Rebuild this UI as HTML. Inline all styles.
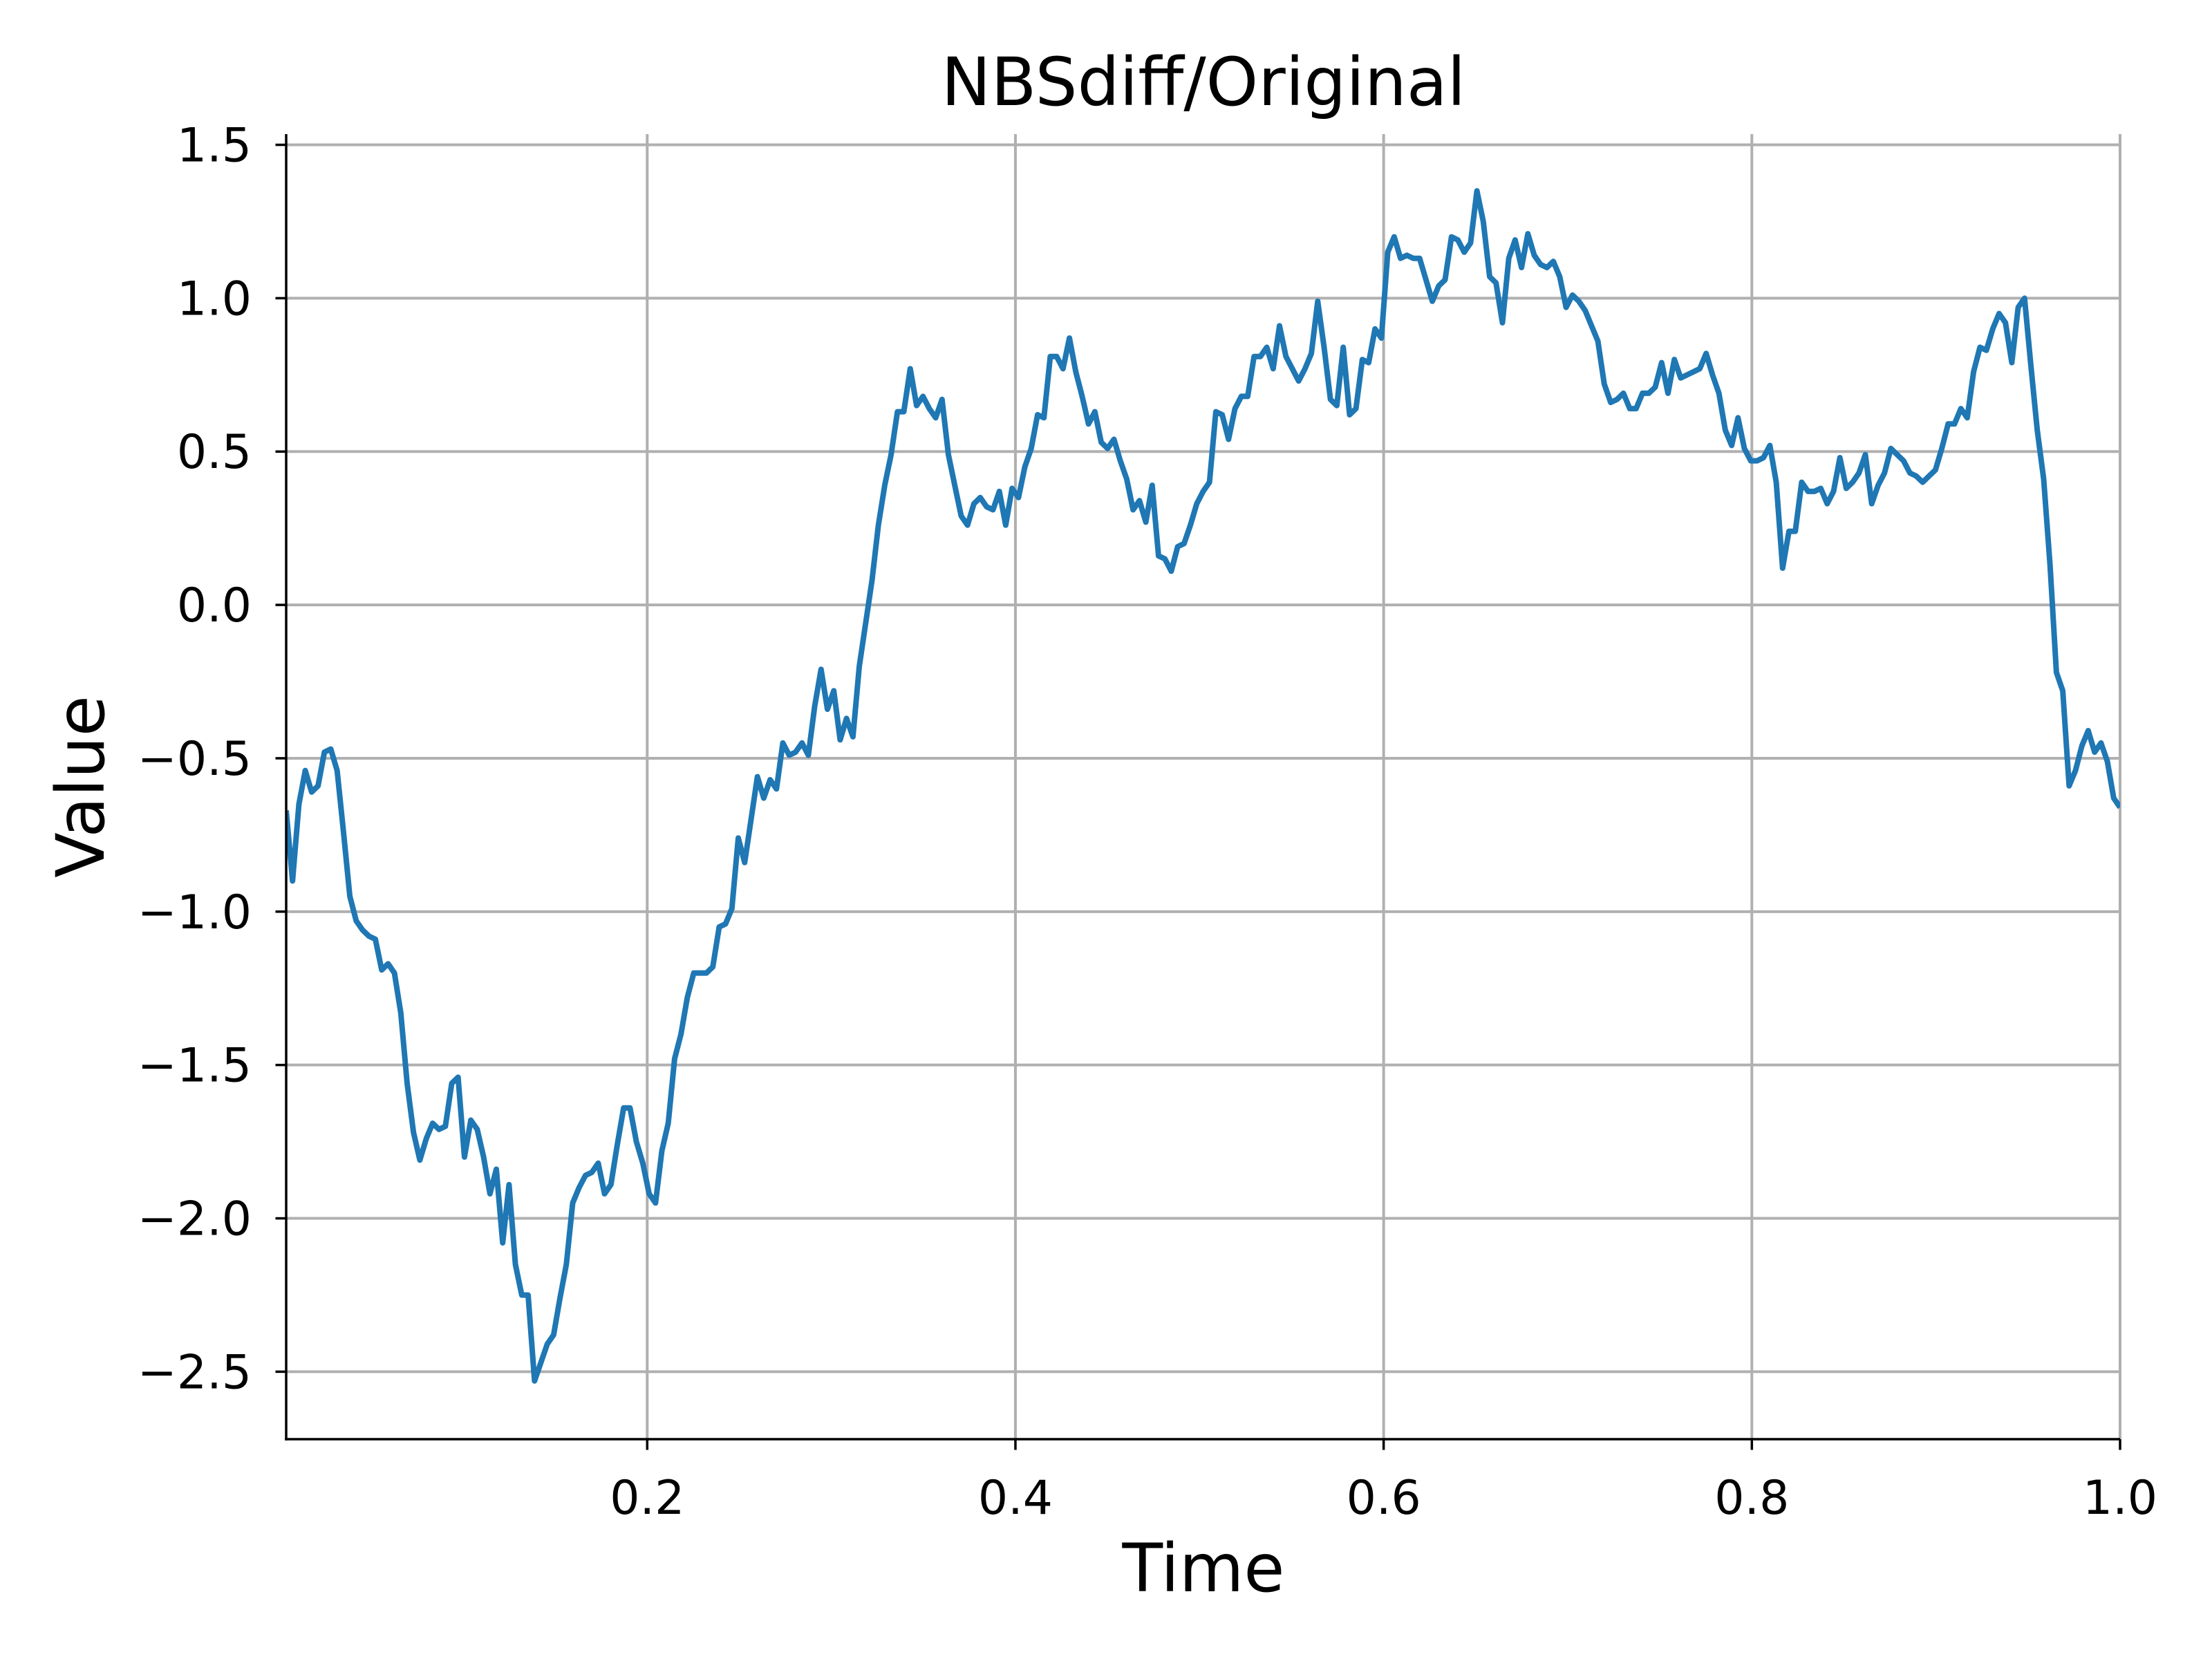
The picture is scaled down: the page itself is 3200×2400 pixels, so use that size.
<!DOCTYPE html>
<html><head><meta charset="utf-8"><style>
html,body{margin:0;padding:0;background:#fff}
svg{display:block}
text{font-family:"DejaVu Sans","Liberation Sans",sans-serif;fill:#000}
</style></head><body>
<svg id="chart" width="3200" height="2400" viewBox="0 0 3200 2400" xmlns="http://www.w3.org/2000/svg">
<rect x="0" y="0" width="3200" height="2400" fill="#fff"/>
<g id="grid"></g>
<g id="series"></g>
<g id="axes"></g>
<text x="1741" y="152" font-size="96" text-anchor="middle">NBSdiff/Original</text>
<text x="1741" y="2302" font-size="96" text-anchor="middle">Time</text>
<text x="0" y="0" font-size="96" text-anchor="middle" transform="translate(150,1138) rotate(-90)">Value</text>
</svg>
<script>
const xTicks = [0.2, 0.4, 0.6, 0.8, 1.0];
const xTickLabels = ["0.2", "0.4", "0.6", "0.8", "1.0"];
const yTicks = [1.5, 1.0, 0.5, 0.0, -0.5, -1.0, -1.5, -2.0, -2.5];
const yTickLabels = ["1.5", "1.0", "0.5", "0.0", "\u22120.5", "\u22121.0", "\u22121.5", "\u22122.0", "\u22122.5"];
const tStart = 0.0039;
const tEnd = 1.0;
const values = [-0.67,-0.90,-0.65,-0.54,-0.61,-0.59,-0.48,-0.47,-0.54,-0.74,-0.95,-1.03,-1.06,-1.08,-1.09,-1.19,-1.17,-1.20,-1.33,-1.56,-1.72,-1.81,-1.74,-1.69,-1.71,-1.70,-1.56,-1.54,-1.80,-1.68,-1.71,-1.80,-1.92,-1.84,-2.08,-1.89,-2.15,-2.25,-2.25,-2.53,-2.47,-2.41,-2.38,-2.26,-2.15,-1.95,-1.90,-1.86,-1.85,-1.82,-1.92,-1.89,-1.76,-1.64,-1.64,-1.75,-1.82,-1.92,-1.95,-1.78,-1.69,-1.48,-1.40,-1.28,-1.20,-1.20,-1.20,-1.18,-1.05,-1.04,-0.99,-0.76,-0.84,-0.70,-0.56,-0.63,-0.57,-0.60,-0.45,-0.49,-0.48,-0.45,-0.49,-0.33,-0.21,-0.34,-0.28,-0.44,-0.37,-0.43,-0.20,-0.06,0.08,0.26,0.39,0.49,0.63,0.63,0.77,0.65,0.68,0.64,0.61,0.67,0.49,0.39,0.29,0.26,0.33,0.35,0.32,0.31,0.37,0.26,0.38,0.35,0.45,0.51,0.62,0.61,0.81,0.81,0.77,0.87,0.76,0.68,0.59,0.63,0.53,0.51,0.54,0.47,0.41,0.31,0.34,0.27,0.39,0.16,0.15,0.11,0.19,0.20,0.26,0.33,0.37,0.40,0.63,0.62,0.54,0.64,0.68,0.68,0.81,0.81,0.84,0.77,0.91,0.81,0.77,0.73,0.77,0.82,0.99,0.84,0.67,0.65,0.84,0.62,0.64,0.80,0.79,0.90,0.87,1.15,1.20,1.13,1.14,1.13,1.13,1.06,0.99,1.04,1.06,1.20,1.19,1.15,1.18,1.35,1.25,1.07,1.05,0.92,1.13,1.19,1.10,1.21,1.14,1.11,1.10,1.12,1.07,0.97,1.01,0.99,0.96,0.91,0.86,0.72,0.66,0.67,0.69,0.64,0.64,0.69,0.69,0.71,0.79,0.69,0.80,0.74,0.75,0.76,0.77,0.82,0.75,0.69,0.57,0.52,0.61,0.51,0.47,0.47,0.48,0.52,0.40,0.12,0.24,0.24,0.40,0.37,0.37,0.38,0.33,0.37,0.48,0.38,0.40,0.43,0.49,0.33,0.39,0.43,0.51,0.49,0.47,0.43,0.42,0.40,0.42,0.44,0.51,0.59,0.59,0.64,0.61,0.76,0.84,0.83,0.90,0.95,0.92,0.79,0.97,1.00,0.78,0.57,0.41,0.13,-0.22,-0.28,-0.59,-0.54,-0.46,-0.41,-0.48,-0.45,-0.51,-0.63,-0.66];

const NS = "http://www.w3.org/2000/svg";
const L = 414, R = 3067, T = 194, B = 2082;
const xMin = 0.0039, xMax = 1.0, yMin = -2.72, yMax = 1.535;
function xs(t){ return L + (t - xMin) / (xMax - xMin) * (R - L); }
function ys(v){ return B - (v - yMin) / (yMax - yMin) * (B - T); }
function mk(tag, attrs, parent){ const e = document.createElementNS(NS, tag); for (const k in attrs) e.setAttribute(k, attrs[k]); parent.appendChild(e); return e; }

const grid = document.getElementById('grid');
const axes = document.getElementById('axes');
const series = document.getElementById('series');

xTicks.forEach((t, i) => {
  const x = xs(t);
  const g = mk('line', {x1:x, x2:x, y1:T, y2:B, stroke:'#b0b0b0', 'stroke-width':4}, grid);
  
  
  const tk = mk('line', {x1:x, x2:x, y1:B, y2:B+15.5, stroke:'#000', 'stroke-width':3.5}, axes);
  
  
  const lb = mk('text', {x:x, y:B+108, 'font-size':68, 'text-anchor':'middle'}, axes);
  lb.textContent = xTickLabels[i];
  
  
});
yTicks.forEach((v, i) => {
  const y = ys(v);
  const g = mk('line', {x1:L, x2:R, y1:y, y2:y, stroke:'#b0b0b0', 'stroke-width':4}, grid);
  
  
  const tk = mk('line', {x1:L-15.5, x2:L, y1:y, y2:y, stroke:'#000', 'stroke-width':3.5}, axes);
  
  
  const lb = mk('text', {x:L-50, y:y+24, 'font-size':68, 'text-anchor':'end'}, axes);
  lb.textContent = yTickLabels[i];
  
  
});
const sl = mk('line', {x1:L, x2:L, y1:T, y2:B+1.75, stroke:'#000', 'stroke-width':3.5}, axes);


const sb = mk('line', {x1:L-1.75, x2:R, y1:B, y2:B, stroke:'#000', 'stroke-width':3.5}, axes);



const n = values.length;
let d = '';
values.forEach((v, i) => {
  const t = tStart + i * (tEnd - tStart) / (n - 1);
  d += (i ? 'L' : 'M') + xs(t).toFixed(1) + ',' + ys(v).toFixed(1);
});
const clip = mk('clipPath', {id:'clipA'}, series);
mk('rect', {x:L, y:T-10, width:R-L, height:B-T+10}, clip);
const p = mk('path', {d:d, fill:'none', stroke:'#1f77b4', 'stroke-width':8, 'stroke-linejoin':'round', 'clip-path':'url(#clipA)'}, series);


</script>
</body></html>
